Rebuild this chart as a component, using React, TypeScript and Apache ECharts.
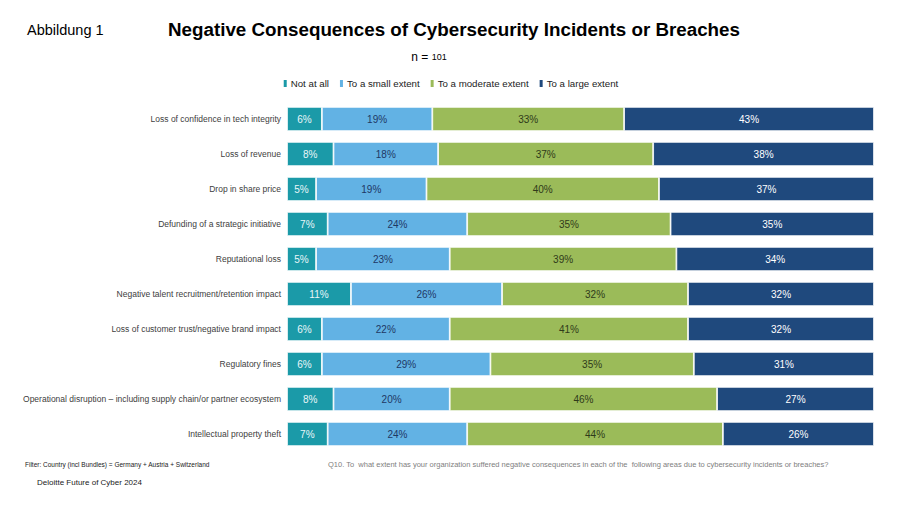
import React, { useEffect, useRef } from "react";
import * as echarts from "echarts";

const categories = [
  "Loss of confidence in tech integrity",
  "Loss of revenue",
  "Drop in share price",
  "Defunding of a strategic initiative",
  "Reputational loss",
  "Negative talent recruitment/retention impact",
  "Loss of customer trust/negative brand impact",
  "Regulatory fines",
  "Operational disruption – including supply chain/or partner ecosystem",
  "Intellectual property theft",
];

const seriesNames = ["Not at all", "To a small extent", "To a moderate extent", "To a large extent"];
const notAtAll = [6, 8, 5, 7, 5, 11, 6, 6, 8, 7];
const smallExtent = [19, 18, 19, 24, 23, 26, 22, 29, 20, 24];
const moderateExtent = [33, 37, 40, 35, 39, 32, 41, 35, 46, 44];
const largeExtent = [43, 38, 37, 35, 34, 32, 32, 31, 27, 26];

const colors = ["#1b9aa8", "#62b2e4", "#9bbb59", "#1f497d"];
const labelColors = ["#eaf6f8", "#1f3864", "#2f3a1a", "#ffffff"];

export default function App() {
  const ref = useRef<HTMLDivElement>(null);
  useEffect(() => {
    if (!ref.current) return;
    const chart = echarts.init(ref.current, undefined, { renderer: "svg" });
    const data = [notAtAll, smallExtent, moderateExtent, largeExtent];
    chart.setOption({
      animation: false,
      backgroundColor: "#ffffff",
      textStyle: { fontFamily: "Liberation Sans, Arial, sans-serif" },
      title: [
        {
          text: "Negative Consequences of Cybersecurity Incidents or Breaches",
          left: 449,
          textAlign: "center",
          top: 15,
          textStyle: { fontSize: 18.8, fontWeight: "bold", color: "#000000", fontFamily: "Liberation Sans, Arial, sans-serif" },
        },
        {
          text: "Abbildung 1",
          left: 22,
          top: 17,
          textStyle: { fontSize: 14.5, fontWeight: "normal", color: "#000000", fontFamily: "Liberation Sans, Arial, sans-serif" },
        },
        {
          text: "{a|n = }{b|101}",
          left: 424,
          textAlign: "center",
          top: 46,
          textStyle: {
            fontWeight: "normal",
            color: "#000000",
            rich: {
              a: { fontSize: 12, color: "#000000", fontWeight: "normal" },
              b: { fontSize: 9, color: "#000000", fontWeight: "normal" },
            },
          },
        },
        {
          text: "Filter: Country (incl Bundles) = Germany + Austria + Switzerland",
          left: 20,
          top: 456,
          textStyle: { fontSize: 6.5, fontWeight: "normal", color: "#222222" },
        },
        {
          text: "Q10. To  what extent has your organization suffered negative consequences in each of the  following areas due to cybersecurity incidents or breaches?",
          left: 323,
          top: 455,
          textStyle: { fontSize: 7.5, fontWeight: "normal", color: "#808080" },
        },
        {
          text: "Deloitte Future of Cyber 2024",
          left: 32,
          top: 473,
          textStyle: { fontSize: 8, fontWeight: "normal", color: "#222222" },
        },
      ],
      legend: {
        data: seriesNames,
        top: 73,
        left: "center",
        icon: "rect",
        itemWidth: 5,
        itemHeight: 9,
        itemGap: 9,
        textStyle: { fontSize: 9.7, color: "#222222", padding: [0, 0, 0, -2] },
      },
      grid: { left: 287, right: 26, top: 101.5, bottom: 54.5, containLabel: false },
      xAxis: {
        type: "value",
        min: 0,
        max: 101,
        show: false,
      },
      yAxis: {
        type: "category",
        data: categories,
        inverse: true,
        axisLine: { show: false },
        axisTick: { show: false },
        axisLabel: { fontSize: 8.5, color: "#404040", margin: 6 },
      },
      series: seriesNames.map((name, i) => ({
        name,
        type: "bar",
        stack: "total",
        data: data[i],
        barCategoryGap: "31%",
        itemStyle: { color: colors[i], borderColor: "#ffffff", borderWidth: 0.8 },
        label: {
          show: true,
          position: "inside",
          formatter: (p: any) => p.value + "%",
          fontSize: 10,
          color: labelColors[i],
        },
      })),
    });
    return () => chart.dispose();
  }, []);
  return (
    <div
      ref={ref}
      style={{ position: "absolute", left: 0, top: 0, width: 900, height: 506 }}
    />
  );
}
